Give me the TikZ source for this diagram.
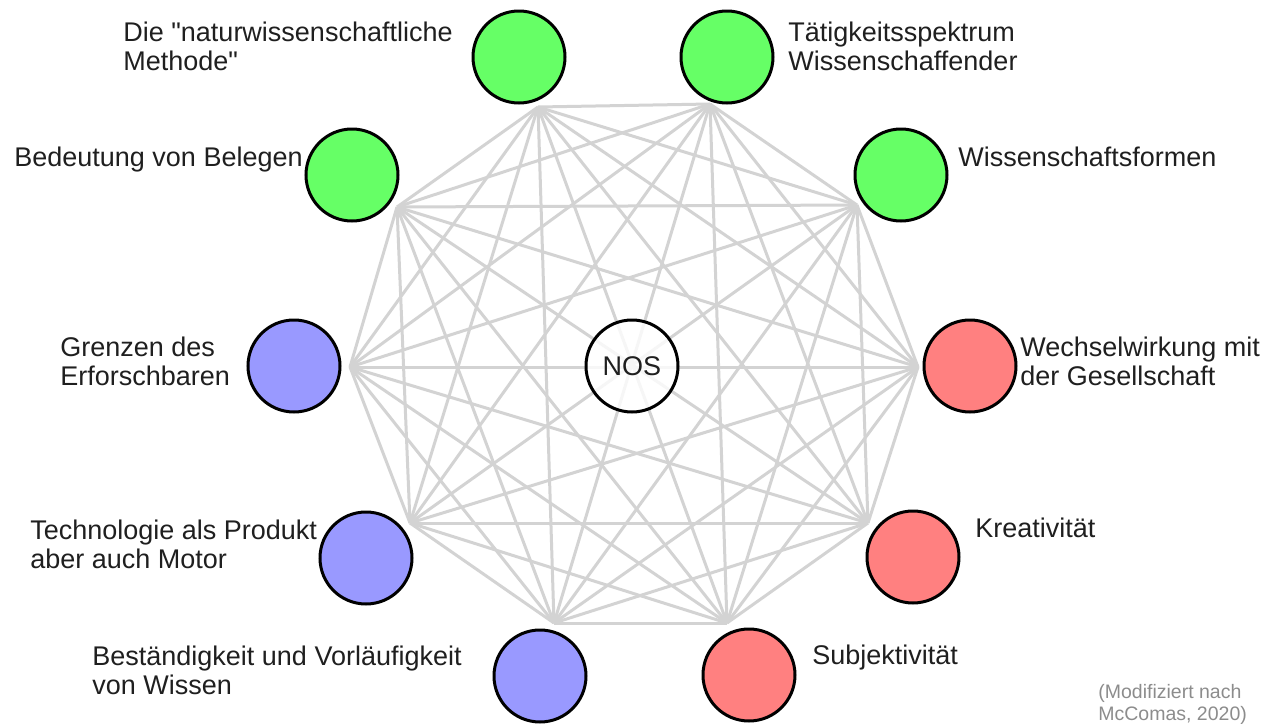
\documentclass[tikz,border=0pt]{standalone}
\usepackage{fontspec}
\setmainfont{Liberation Sans}[Ligatures=TeXOff]

\definecolor{natgreen}{HTML}{66FF66}
\definecolor{natblue}{HTML}{9999FF}
\definecolor{natred}{HTML}{FF8080}
\definecolor{edgegray}{HTML}{D3D3D3}

\tikzset{
  aspect/.style={circle,draw=black,line width=1.5pt,minimum size=46pt,inner sep=0pt},
  edge/.style={draw=edgegray,line width=1.5pt},
  labeltext/.style={font=\fontsize{13.5}{14.5}\selectfont,align=left,inner sep=0pt,text=black!88},
  sourcetext/.style={font=\fontsize{9.75}{11}\selectfont,align=left,inner sep=0pt,text=black!45}
}

\begin{document}
\begin{tikzpicture}[x=0.5pt,y=-0.5pt]
  \useasboundingbox (0,0) rectangle (1266,724);

  % corners of the decagon
  \coordinate (1) at (538,107);
  \coordinate (2) at (710,104);
  \coordinate (3) at (857,205);
  \coordinate (4) at (918,367);
  \coordinate (5) at (868,523);
  \coordinate (6) at (727,623);
  \coordinate (7) at (554,623);
  \coordinate (8) at (410,523);
  \coordinate (9) at (350,367);
  \coordinate (10) at (397,207);

  % every corner with every other one
  \foreach \i in {1,...,10}{
    \foreach \j in {1,...,10}{
      \ifnum\j>\i
        \draw[edge] (\i) -- (\j);
      \fi
    }
  }

  % NOS in the middle
  \node[aspect,fill=white,fill opacity=0.8,text opacity=1,labeltext] (nos) at (632,366) {NOS};

  % the ten aspects
  \node[aspect,fill=natgreen] (methode) at (519,57) {};
  \node[aspect,fill=natgreen] (taetigkeit) at (727,57) {};
  \node[aspect,fill=natgreen] (formen) at (901,175) {};
  \node[aspect,fill=natgreen] (belege) at (352,175) {};
  \node[aspect,fill=natblue] (grenzen) at (294,366) {};
  \node[aspect,fill=natred] (gesellschaft) at (970,366) {};
  \node[aspect,fill=natblue] (technologie) at (366,558) {};
  \node[aspect,fill=natred] (kreativ) at (913,557) {};
  \node[aspect,fill=natblue] (vorlaeufig) at (540,676) {};
  \node[aspect,fill=natred] (subjektiv) at (749,675) {};

  % texts
  \node[labeltext,anchor=west] (methode-text) at (123,46) {Die "naturwissenschaftliche\\Methode"};
  \node[labeltext,anchor=west] (taetigkeit-text) at (788,46) {Tätigkeitsspektrum\\Wissenschaffender};
  \node[labeltext,anchor=base west] (belege-text) at (14,166) {Bedeutung von Belegen};
  \node[labeltext,anchor=base west] (formen-text) at (958,166) {Wissenschaftsformen};
  \node[labeltext,anchor=west] (grenzen-text) at (60,361) {Grenzen des\\Erforschbaren};
  \node[labeltext,anchor=west] (gesellschaft-text) at (1020,361) {Wechselwirkung mit\\der Gesellschaft};
  \node[labeltext,anchor=west] (technologie-text) at (30,544) {Technologie als Produkt\\aber auch Motor};
  \node[labeltext,anchor=base west] (kreativ-text) at (975,537) {Kreativität};
  \node[labeltext,anchor=west] (vorlaeufig-text) at (92,670) {Beständigkeit und Vorläufigkeit\\von Wissen};
  \node[labeltext,anchor=base west] (subjektiv-text) at (812,664) {Subjektivität};

  \node[sourcetext,anchor=base west] (quelle) at (1098,720) {(Modifiziert nach\\McComas, 2020)};
\end{tikzpicture}
\end{document}
